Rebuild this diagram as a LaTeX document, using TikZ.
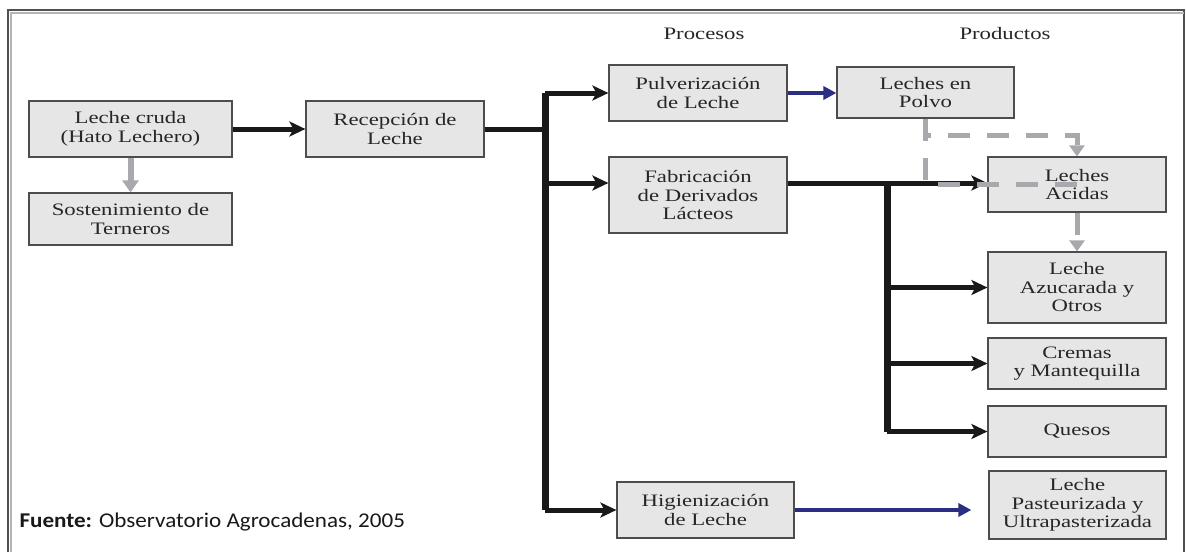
\documentclass[tikz,border=0pt]{standalone}
\usepackage{fontspec}
\usepackage{tikz}
\usetikzlibrary{calc}
\usetikzlibrary{arrows.meta}
\newfontfamily\boxfont[FakeStretch=1.3]{Liberation Serif}
\newfontfamily\notefont[FakeStretch=1.1]{Carlito}
\definecolor{boxfill}{HTML}{E6E6E7}
\definecolor{boxline}{HTML}{4D4D4D}
\definecolor{flowblue}{HTML}{2B2E83}
\definecolor{flowgray}{HTML}{A7A9AC}
\definecolor{framedark}{HTML}{505050}
\definecolor{framelight}{HTML}{B4B4B4}
\newcommand\boxsize{\fontsize{17.5}{18.5}\selectfont}

\begin{document}
\begin{tikzpicture}[x=1pt,y=-1pt,
  proc/.style={draw=boxline,line width=1.2pt,fill=boxfill,inner sep=0pt,
    align=center,font=\boxfont\boxsize,text=black!85},
  head/.style={font=\boxfont\boxsize,text=black!85},
  link/.style={line width=5pt,black!90},
  trunk/.style={line width=7pt,black!90},
  flow/.style={link,-{Stealth[length=16pt,width=15pt,inset=4pt]}},
  blueflow/.style={line width=4pt,flowblue,-{Triangle[length=13pt,width=13pt]}},
  grayflow/.style={line width=6pt,flowgray,-{Triangle[length=12pt,width=16pt]}},
  dashline/.style={line width=5pt,flowgray,dash pattern=on 22pt off 17pt},
  dashflow/.style={dashline,-{Triangle[length=11pt,width=15pt]}}]
\useasboundingbox (0,0) rectangle (1186,552);
\fill[white] (0,0) rectangle (1186,552);
\draw[framedark,line width=1.6pt] (8,552) |- (1184,10) -- (1184,552);
\draw[framelight,line width=2.5pt] (11,552) |- (1184,13);

\node[head] (procesos) at (704,34) {Procesos};
\node[head] (productos) at (1005,34) {Productos};

\node[proc,minimum width=203,minimum height=56] (cruda) at (130.5,129) {Leche cruda\\(Hato Lechero)};
\node[proc,minimum width=203,minimum height=52] (sosten) at (130.5,219) {Sostenimiento de\\Terneros};
\node[proc,minimum width=178,minimum height=56] (recep) at (395,129) {Recepci\'on de\\Leche};
\node[proc,minimum width=178,minimum height=56] (pulv) at (698,93) {Pulverizaci\'on\\de Leche};
\node[proc,minimum width=177,minimum height=51] (polvo) at (925.5,92.5) {Leches en\\Polvo};
\node[proc,minimum width=178,minimum height=76] (fab) at (698,195) {Fabricaci\'on\\de Derivados\\L\'acteos};
\node[proc,minimum width=178,minimum height=55] (acidas) at (1077,184.5) {Leches\\Acidas};
\node[proc,minimum width=178,minimum height=71] (azuc) at (1077,287.5) {Leche\\Azucarada y\\Otros};
\node[proc,minimum width=178,minimum height=51] (cremas) at (1077,363.5) {Cremas\\y Mantequilla};
\node[proc,minimum width=178,minimum height=51] (quesos) at (1077,431.5) {Quesos};
\node[proc,minimum width=177,minimum height=56] (hig) at (705.5,510) {Higienizaci\'on\\de Leche};
\node[proc,minimum width=177,minimum height=68] (past) at (1077.5,505) {Leche\\Pasteurizada y\\Ultrapasterizada};

\node[anchor=west,font=\notefont\fontsize{21}{23}\selectfont,text=black!90] (fuente) at (16,522)
  {\textbf{Fuente:} Observatorio Agrocadenas, 2005};

\coordinate (hub) at (545,129);
\coordinate (hubtwo) at (887,300);
\coordinate (fabin) at ([yshift=12pt]fab.west);
\coordinate (fabout) at ([yshift=12pt]fab.east);

\draw[grayflow] (cruda) -- (sosten);
\draw[flow] (cruda) -- (recep);
\draw[link] (recep.east) -- (hub);
\draw[trunk] (hub |- pulv.west) -- (hub |- hig.west);
\draw[flow] (hub |- pulv.west) -- (pulv.west);
\draw[flow] (hub |- fabin) -- (fabin);
\draw[flow] (hub |- hig.west) -- (hig.west);
\draw[blueflow] (pulv.east) -- (pulv.east -| polvo.west);
\draw[blueflow,shorten >=17pt] (hig.east) -- (hig.east -| past.west);

\draw[flow] (fabout) -- (fabout -| acidas.west);
\draw[trunk] (fabout -| hubtwo) -- (hubtwo |- quesos.west);
\draw[flow] (hubtwo |- azuc.west) -- (azuc.west);
\draw[flow] (hubtwo |- cremas.west) -- (cremas.west);
\draw[flow] (hubtwo |- quesos.west) -- (quesos.west);

\draw[dashflow] (polvo.south) |- ([yshift=21pt]acidas.north) -- (acidas.north);
\draw[dashline] (polvo.south) |- (acidas.center);
\draw[dashflow] (acidas.south) -- (azuc.north);
\end{tikzpicture}
\end{document}
